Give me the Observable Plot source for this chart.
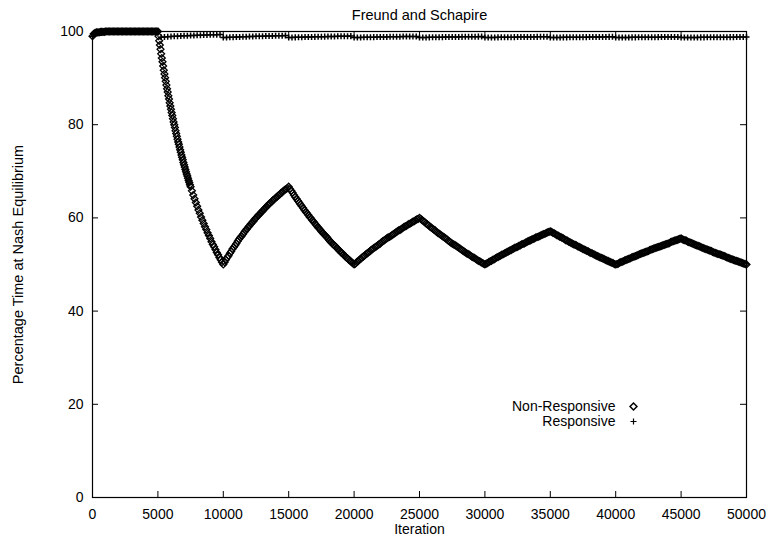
<!DOCTYPE html>
<html>
<head>
<meta charset="utf-8">
<script src="https://cdn.jsdelivr.net/npm/d3@7"></script>
<script src="https://cdn.jsdelivr.net/npm/@observablehq/plot@0.6"></script>
<style>
  html, body { margin: 0; padding: 0; background: white; }
</style>
</head>
<body>
<div id="chart"></div>
<script>
const title = "Freund and Schapire";
const xLabel = "Iteration";
const yLabel = "Percentage Time at Nash Equilibrium";
const seriesNames = ["Non-Responsive", "Responsive"];
const xTicks = [0, 5000, 10000, 15000, 20000, 25000, 30000, 35000, 40000, 45000, 50000];
const yTicks = [0, 20, 40, 60, 80, 100];

// Both series, iterations 0..5000 every 100
const warmupPct = [
  99.0, 99.5, 99.7, 99.8, 99.8, 99.8, 99.9, 99.9, 99.9, 99.9,
  100, 100, 100, 100, 100, 100, 100, 100, 100, 100,
  100, 100, 100, 100, 100, 100, 100, 100, 100, 100,
  100, 100, 100, 100, 100, 100, 100, 100, 100, 100,
  100, 100, 100, 100, 100, 100, 100, 100, 100, 100, 100
];

// Non-Responsive, iterations 5000..7500 every 50
const nrDrop = [
  100.0, 99.0, 98.0, 97.1, 96.2, 95.2, 94.3, 93.5, 92.6, 91.7,
  90.9, 90.1, 89.3, 88.5, 87.7, 87.0, 86.2, 85.5, 84.7, 84.0,
  83.3, 82.6, 82.0, 81.3, 80.6, 80.0, 79.4, 78.7, 78.1, 77.5,
  76.9, 76.3, 75.8, 75.2, 74.6, 74.1, 73.5, 73.0, 72.5, 71.9,
  71.4, 70.9, 70.4, 69.9, 69.4, 69.0, 68.5, 68.0, 67.6, 67.1, 66.7
];

// Non-Responsive, iterations 7600..10000 every 100
const nrDropTail = [
  65.8, 64.9, 64.1, 63.3, 62.5, 61.7, 61.0, 60.2, 59.5, 58.8,
  58.1, 57.5, 56.8, 56.2, 55.6, 54.9, 54.3, 53.8, 53.2, 52.6,
  52.1, 51.5, 51.0, 50.5, 50.0
];

// Non-Responsive, iterations 10100..50000 every 100
const nrCycles = [
  // 10100..15000
  50.5, 51.0, 51.5, 51.9, 52.4, 52.8, 53.3, 53.7, 54.1, 54.5,
  55.0, 55.4, 55.8, 56.1, 56.5, 56.9, 57.3, 57.6, 58.0, 58.3,
  58.7, 59.0, 59.3, 59.7, 60.0, 60.3, 60.6, 60.9, 61.2, 61.5,
  61.8, 62.1, 62.4, 62.7, 63.0, 63.2, 63.5, 63.8, 64.0, 64.3,
  64.5, 64.8, 65.0, 65.3, 65.5, 65.8, 66.0, 66.2, 66.4, 66.7,
  // 15100..20000
  66.2, 65.8, 65.4, 64.9, 64.5, 64.1, 63.7, 63.3, 62.9, 62.5,
  62.1, 61.7, 61.3, 61.0, 60.6, 60.2, 59.9, 59.5, 59.2, 58.8,
  58.5, 58.1, 57.8, 57.5, 57.1, 56.8, 56.5, 56.2, 55.9, 55.6,
  55.2, 54.9, 54.6, 54.3, 54.1, 53.8, 53.5, 53.2, 52.9, 52.6,
  52.4, 52.1, 51.8, 51.5, 51.3, 51.0, 50.8, 50.5, 50.3, 50.0,
  // 20100..25000
  50.2, 50.5, 50.7, 51.0, 51.2, 51.5, 51.7, 51.9, 52.2, 52.4,
  52.6, 52.8, 53.1, 53.3, 53.5, 53.7, 53.9, 54.1, 54.3, 54.5,
  54.8, 55.0, 55.2, 55.4, 55.6, 55.8, 55.9, 56.1, 56.3, 56.5,
  56.7, 56.9, 57.1, 57.3, 57.4, 57.6, 57.8, 58.0, 58.2, 58.3,
  58.5, 58.7, 58.8, 59.0, 59.2, 59.3, 59.5, 59.7, 59.8, 60.0,
  // 25100..30000
  59.8, 59.5, 59.3, 59.1, 58.8, 58.6, 58.4, 58.1, 57.9, 57.7,
  57.5, 57.3, 57.0, 56.8, 56.6, 56.4, 56.2, 56.0, 55.8, 55.6,
  55.4, 55.1, 54.9, 54.7, 54.5, 54.3, 54.2, 54.0, 53.8, 53.6,
  53.4, 53.2, 53.0, 52.8, 52.6, 52.4, 52.3, 52.1, 51.9, 51.7,
  51.5, 51.4, 51.2, 51.0, 50.8, 50.7, 50.5, 50.3, 50.2, 50.0,
  // 30100..35000
  50.2, 50.3, 50.5, 50.7, 50.8, 51.0, 51.1, 51.3, 51.5, 51.6,
  51.8, 51.9, 52.1, 52.2, 52.4, 52.5, 52.7, 52.8, 53.0, 53.1,
  53.3, 53.4, 53.6, 53.7, 53.8, 54.0, 54.1, 54.3, 54.4, 54.5,
  54.7, 54.8, 55.0, 55.1, 55.2, 55.4, 55.5, 55.6, 55.8, 55.9,
  56.0, 56.1, 56.3, 56.4, 56.5, 56.6, 56.8, 56.9, 57.0, 57.1,
  // 35100..40000
  57.0, 56.8, 56.7, 56.5, 56.3, 56.2, 56.0, 55.9, 55.7, 55.6,
  55.4, 55.2, 55.1, 54.9, 54.8, 54.6, 54.5, 54.3, 54.2, 54.1,
  53.9, 53.8, 53.6, 53.5, 53.3, 53.2, 53.1, 52.9, 52.8, 52.6,
  52.5, 52.4, 52.2, 52.1, 51.9, 51.8, 51.7, 51.5, 51.4, 51.3,
  51.2, 51.0, 50.9, 50.8, 50.6, 50.5, 50.4, 50.3, 50.1, 50.0,
  // 40100..45000
  50.1, 50.2, 50.4, 50.5, 50.6, 50.7, 50.9, 51.0, 51.1, 51.2,
  51.3, 51.5, 51.6, 51.7, 51.8, 51.9, 52.0, 52.2, 52.3, 52.4,
  52.5, 52.6, 52.7, 52.8, 52.9, 53.1, 53.2, 53.3, 53.4, 53.5,
  53.6, 53.7, 53.8, 53.9, 54.0, 54.1, 54.2, 54.3, 54.4, 54.5,
  54.6, 54.8, 54.9, 55.0, 55.1, 55.2, 55.3, 55.4, 55.5, 55.6,
  // 45100..50000
  55.4, 55.3, 55.2, 55.1, 54.9, 54.8, 54.7, 54.6, 54.5, 54.3,
  54.2, 54.1, 54.0, 53.9, 53.8, 53.6, 53.5, 53.4, 53.3, 53.2,
  53.1, 53.0, 52.9, 52.7, 52.6, 52.5, 52.4, 52.3, 52.2, 52.1,
  52.0, 51.9, 51.8, 51.7, 51.5, 51.4, 51.3, 51.2, 51.1, 51.0,
  50.9, 50.8, 50.7, 50.6, 50.5, 50.4, 50.3, 50.2, 50.1, 50.0
];

// Responsive, iterations 5000..50000 every 250
const rAfter = [
  98.70, 98.76, 98.82, 98.87, 98.92, 98.96, 99.00, 99.04, 99.07, 99.10,
  99.13, 99.16, 99.19, 99.21, 99.24, 99.26, 99.28, 99.30, 99.32, 99.33,
  98.70, 98.73, 98.76, 98.79, 98.82, 98.84, 98.87, 98.89, 98.92, 98.94,
  98.96, 98.98, 99.00, 99.02, 99.04, 99.05, 99.07, 99.09, 99.10, 99.12,
  98.70, 98.72, 98.74, 98.76, 98.78, 98.80, 98.82, 98.84, 98.85, 98.87,
  98.89, 98.90, 98.92, 98.93, 98.95, 98.96, 98.97, 98.99, 99.00, 99.01,
  98.70, 98.72, 98.73, 98.75, 98.76, 98.78, 98.79, 98.80, 98.82, 98.83,
  98.84, 98.86, 98.87, 98.88, 98.89, 98.91, 98.92, 98.93, 98.94, 98.95,
  98.70, 98.71, 98.73, 98.74, 98.75, 98.76, 98.77, 98.79, 98.80, 98.81,
  98.82, 98.83, 98.84, 98.85, 98.86, 98.87, 98.88, 98.89, 98.90, 98.91,
  98.70, 98.71, 98.72, 98.73, 98.74, 98.75, 98.76, 98.77, 98.78, 98.79,
  98.80, 98.81, 98.82, 98.83, 98.84, 98.84, 98.85, 98.86, 98.87, 98.88,
  98.70, 98.71, 98.72, 98.73, 98.74, 98.74, 98.75, 98.76, 98.77, 98.78,
  98.79, 98.79, 98.80, 98.81, 98.82, 98.83, 98.83, 98.84, 98.85, 98.86,
  98.70, 98.71, 98.71, 98.72, 98.73, 98.74, 98.74, 98.75, 98.76, 98.76,
  98.77, 98.78, 98.78, 98.79, 98.80, 98.80, 98.81, 98.82, 98.82, 98.83,
  98.70, 98.71, 98.71, 98.72, 98.72, 98.73, 98.74, 98.74, 98.75, 98.75,
  98.76, 98.77, 98.77, 98.78, 98.78, 98.79, 98.79, 98.80, 98.80, 98.81, 98.83
];

function pair(iters, values, series) {
  return values.map((v, i) => ({iter: iters[i], pct: v, series}));
}

const nonResponsive = [
  ...pair(d3.range(0, 5001, 100), warmupPct, seriesNames[0]),
  ...pair(d3.range(5050, 7501, 50), nrDrop.slice(1), seriesNames[0]),
  ...pair(d3.range(7600, 10001, 100), nrDropTail, seriesNames[0]),
  ...pair(d3.range(10100, 50001, 100), nrCycles, seriesNames[0])
];
const responsive = [
  ...pair(d3.range(0, 5001, 100), warmupPct, seriesNames[1]),
  ...pair(d3.range(5250, 50001, 250), rAfter.slice(1), seriesNames[1])
];

const W = 769, H = 542;
const mL = 92, mR = 23, mT = 31, mB = 45;
const innerW = W - mL - mR, innerH = H - mT - mB;
const tick = 6;
const font = "'Liberation Sans', Arial, Helvetica, sans-serif";

const chart = Plot.plot({
  width: W,
  height: H,
  marginLeft: mL,
  marginRight: mR,
  marginTop: mT,
  marginBottom: mB,
  style: {
    fontFamily: font,
    fontSize: "14px",
    background: "white",
    color: "black",
    overflow: "visible"
  },
  x: {domain: [0, 50000]},
  y: {domain: [0, 100]},
  marks: [
    Plot.axisX({ticks: xTicks, tickSize: 0, tickPadding: 12, tickFormat: "d", label: null, fontSize: 14}),
    Plot.axisY({ticks: yTicks, tickSize: 0, tickPadding: 9, tickFormat: "d", label: null, fontSize: 14}),
    Plot.ruleX(xTicks, {x: d => d, insetTop: innerH - tick, stroke: "black"}),
    Plot.ruleX(xTicks, {x: d => d, insetBottom: innerH - tick, stroke: "black"}),
    Plot.ruleY(yTicks, {y: d => d, insetRight: innerW - tick, stroke: "black"}),
    Plot.ruleY(yTicks, {y: d => d, insetLeft: innerW - tick, stroke: "black"}),
    Plot.frame({stroke: "black", strokeWidth: 1.2}),
    Plot.dot(nonResponsive, {x: "iter", y: "pct", symbol: "diamond2", r: 3.1, stroke: "black", strokeWidth: 1.3, fill: "none"}),
    Plot.dot(responsive, {x: "iter", y: "pct", symbol: "plus", r: 2.1, stroke: "black", strokeWidth: 1.5}),
    Plot.text([title], {frameAnchor: "top", dy: -16, lineAnchor: "middle", fontSize: 14.5, fill: "black"}),
    Plot.text([xLabel], {frameAnchor: "bottom", dy: 32, lineAnchor: "middle", fontSize: 14, fill: "black"}),
    Plot.text([yLabel], {frameAnchor: "left", dx: -74, rotate: -90, textAnchor: "middle", lineAnchor: "middle", fontSize: 14.5, fill: "black"}),
    Plot.text([seriesNames[0]], {frameAnchor: "bottom-right", dx: -131, dy: -91, textAnchor: "end", lineAnchor: "middle", fontSize: 14, fill: "black"}),
    Plot.text([seriesNames[1]], {frameAnchor: "bottom-right", dx: -131, dy: -76, textAnchor: "end", lineAnchor: "middle", fontSize: 14, fill: "black"}),
    Plot.dot([seriesNames[0]], {frameAnchor: "bottom-right", dx: -113, dy: -91, symbol: "diamond2", r: 3.1, stroke: "black", fill: "white"}),
    Plot.dot([seriesNames[1]], {frameAnchor: "bottom-right", dx: -113, dy: -76, symbol: "plus", r: 2.1, stroke: "black", strokeWidth: 1.2})
  ]
});
document.getElementById("chart").appendChild(chart);
</script>
</body>
</html>
